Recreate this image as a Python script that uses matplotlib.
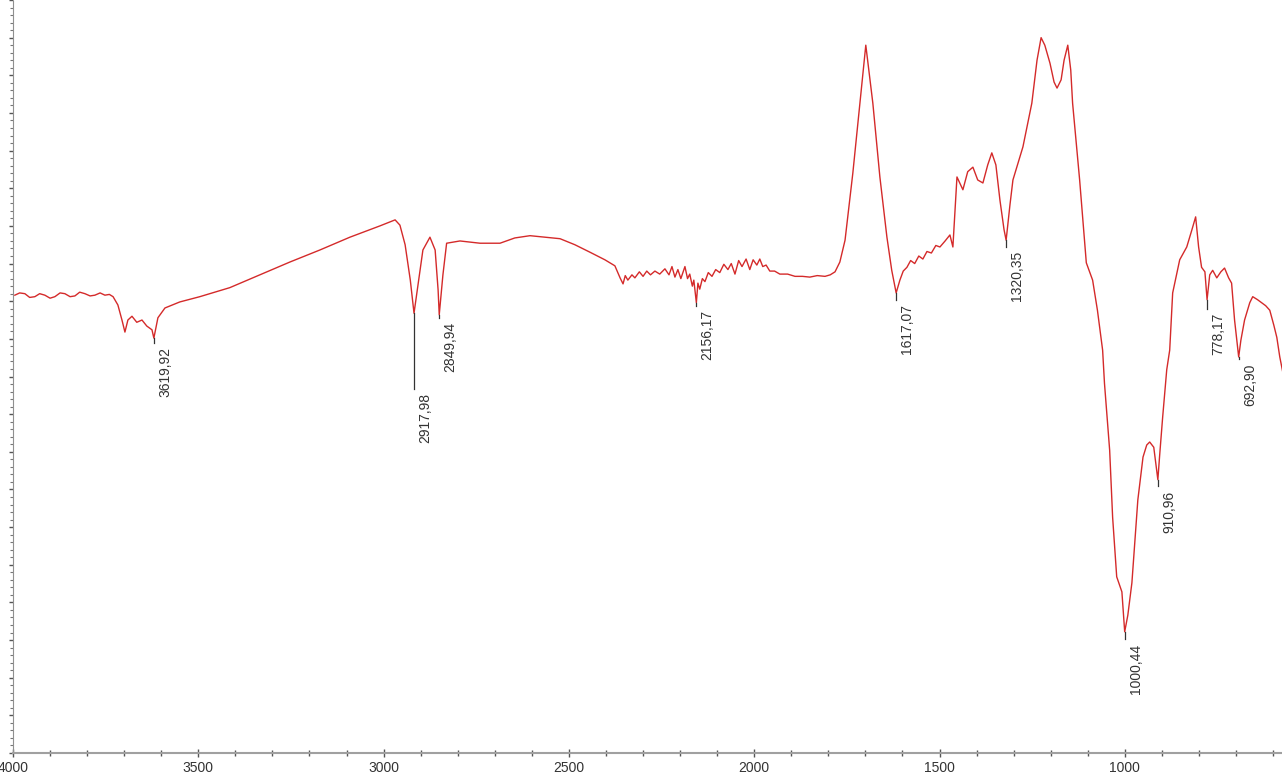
import numpy as np
import matplotlib.pyplot as plt
from matplotlib.ticker import MultipleLocator

# FTIR spectrum (wavenumber cm-1, arbitrary transmittance units)
wn = [3995, 3982, 3968, 3955, 3941, 3928, 3914, 3900, 3887, 3873, 3860, 3846, 3833, 3820,
      3806, 3792, 3779, 3765, 3752, 3740, 3730, 3717, 3706, 3698,
      3690, 3679, 3666, 3652, 3639, 3625, 3619.92, 3609, 3590, 3550, 3496, 3415, 3334, 3253,
      3172, 3091, 3010, 2969, 2956, 2942, 2928, 2917.98, 2907, 2894, 2875, 2861, 2853,
      2849.94, 2840, 2830, 2794, 2740, 2686, 2646, 2605, 2565, 2524, 2484, 2443, 2403, 2376,
      2362, 2354, 2348, 2341, 2330, 2322, 2310, 2300, 2290, 2280, 2268, 2255, 2241, 2230,
      2222, 2214, 2206, 2198, 2187, 2180, 2174, 2167, 2163, 2156.17, 2152, 2147, 2140, 2133,
      2124, 2114, 2104, 2093, 2082, 2071, 2062, 2052, 2042, 2033, 2022, 2012, 2003, 1993,
      1985, 1977, 1968, 1958, 1945, 1931, 1910, 1890, 1870, 1850, 1830, 1809, 1795,
      1782, 1769, 1755, 1734, 1715, 1699, 1680, 1661, 1642, 1629, 1617.07, 1607, 1598, 1588,
      1578, 1567, 1556, 1545, 1534, 1522, 1510, 1499, 1485, 1472, 1464, 1453, 1437, 1424,
      1410, 1397, 1383, 1370, 1359, 1348, 1337,
      1326, 1320.35, 1310, 1302, 1275, 1251, 1237, 1226, 1216, 1202, 1191, 1183, 1172, 1164,
      1154, 1146, 1141, 1122, 1104, 1087, 1074, 1060, 1055, 1041, 1033, 1022, 1008, 1000.44,
      992, 981, 965, 951, 941, 933, 922, 917, 910.96, 906, 898, 887, 879, 871, 852, 833, 819,
      809, 801, 793, 784, 778.17, 771, 763, 752, 741, 731, 720, 712, 704, 692.90, 687, 677,
      663, 655, 642, 631, 620, 609, 598, 590, 582, 574]
trans = [60.8, 61.1, 61.0, 60.5, 60.6, 61.0, 60.8, 60.4, 60.6, 61.1, 61.0, 60.6, 60.7, 61.2,
         61.0, 60.7, 60.8, 61.1, 60.8, 60.9, 60.6, 59.5, 57.5, 55.9,
         57.5, 58.0, 57.2, 57.5, 56.7, 56.2, 55.1, 57.8, 59.1, 59.9, 60.6, 61.8, 63.5, 65.2,
         66.8, 68.5, 70.0, 70.8, 70.1, 67.5, 62.8, 58.4, 62.2, 66.8, 68.5, 66.8, 61.5,
         58.2, 63.5, 67.7, 68.0, 67.7, 67.7, 68.4, 68.7, 68.5, 68.3, 67.5, 66.5, 65.5, 64.7,
         63.1, 62.3, 63.4, 62.8, 63.5, 63.1, 63.9, 63.3, 64.0, 63.5, 64.0, 63.6, 64.3, 63.5,
         64.6, 63.2, 64.2, 63.0, 64.6, 63.0, 63.6, 62.0, 62.8, 59.8, 62.4, 61.6, 63.0, 62.6,
         63.8, 63.3, 64.2, 63.8, 64.9, 64.2, 65.0, 63.6, 65.4, 64.6, 65.6, 64.2, 65.5, 64.8,
         65.6, 64.6, 64.8, 64.0, 64.0, 63.6, 63.6, 63.3, 63.3, 63.2, 63.4, 63.3, 63.5,
         63.9, 65.2, 68.1, 77.0, 86.3, 94.0, 86.3, 76.5, 68.5, 64.1, 61.1, 62.8, 64.0, 64.5,
         65.4, 65.0, 66.0, 65.6, 66.6, 66.4, 67.4, 67.2, 68.0, 68.8, 67.2, 76.5, 74.8, 77.2,
         77.8, 76.1, 75.7, 78.1, 79.7, 78.1, 73.4,
         69.5, 68.1, 72.8, 76.1, 80.5, 86.3, 92.0, 95.0, 94.0, 91.6, 89.1, 88.3, 89.4, 92.0,
         94.0, 90.7, 86.3, 76.1, 65.1, 62.8, 58.8, 53.5, 49.1, 40.2, 31.3, 23.4, 21.4, 16.1,
         18.3, 22.6, 33.6, 39.3, 40.9, 41.3, 40.6, 38.6, 36.3, 39.6, 44.6, 50.9, 53.5, 61.1,
         65.5, 67.2, 69.5, 71.2, 67.2, 64.5, 63.9, 60.2, 63.5, 64.1, 63.1, 63.9, 64.4, 63.1,
         62.4, 57.5, 52.6, 54.8, 57.5, 59.8, 60.6, 60.2, 59.8, 59.4, 58.8, 56.8, 55.2, 52.6,
         50.6]

peaks = [3619.92, 2917.98, 2849.94, 2156.17, 1617.07, 1320.35, 1000.44, 910.96, 778.17, 692.90]
peak_labels = [('%.2f' % p).replace('.', ',') for p in peaks]
# length of the peak-pick leader line (y units)
leader = [0.6, 10.0, 0.4, 0.4, 0.9, 0.9, 1.0, 0.9, 1.2, 0.3]

plt.rcParams['font.family'] = ['Liberation Sans', 'DejaVu Sans']

fig = plt.figure(figsize=(12.82, 7.76), dpi=100)
ax = fig.add_axes([13 / 1282, 23 / 776, 1 - 13 / 1282, 753 / 776])

ax.plot(wn, trans, color='#d42a2a', lw=1.0)

wn_arr = np.array(wn)[::-1]
tr_arr = np.array(trans)[::-1]
for p, lab, ll in zip(peaks, peak_labels, leader):
    y0 = np.interp(p, wn_arr, tr_arr)
    ax.plot([p, p], [y0, y0 - ll], color='#333333', lw=0.9)
    ax.annotate(lab, xy=(p, y0 - ll), xytext=(3, -3), textcoords='offset points',
                rotation=90, ha='left', va='top', fontsize=10, color='#333333')

ax.set_xlim(4000, 576)
ax.set_ylim(0, 100)
ax.xaxis.set_major_locator(MultipleLocator(500))
ax.xaxis.set_minor_locator(MultipleLocator(100))
ax.yaxis.set_major_locator(MultipleLocator(5))
ax.yaxis.set_minor_locator(MultipleLocator(1))
ax.tick_params(axis='x', which='major', direction='inout', length=6, width=1,
               colors='#555555', labelcolor='#333333', labelsize=10, pad=3)
ax.tick_params(axis='x', which='minor', direction='inout', length=4, width=1, colors='#555555')
ax.tick_params(axis='y', which='major', direction='out', length=3, width=1,
               colors='#555555', labelleft=False)
ax.tick_params(axis='y', which='minor', direction='out', length=2, width=0.8, colors='#777777')
for s in ['top', 'right']:
    ax.spines[s].set_visible(False)
ax.spines['bottom'].set_color('#a0a0a0')
ax.spines['bottom'].set_linewidth(1.5)
ax.spines['left'].set_color('#909090')
ax.spines['left'].set_linestyle((0, (1, 1)))

fig.savefig('out.png', dpi=100)
